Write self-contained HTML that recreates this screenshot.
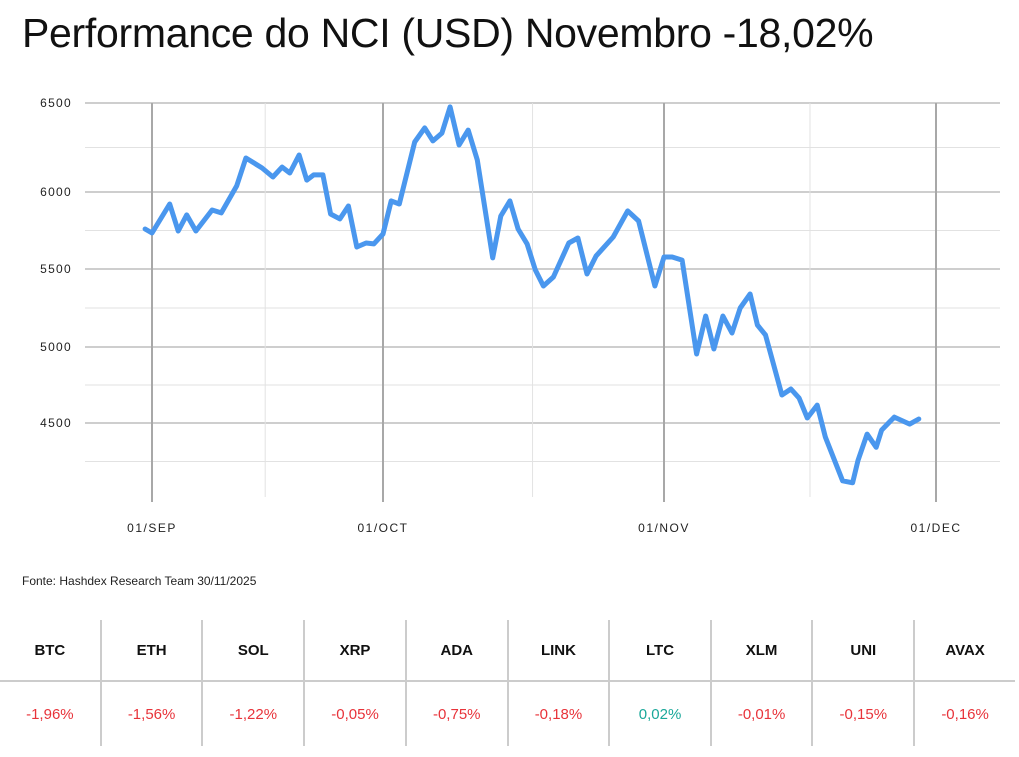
<!DOCTYPE html>
<html><head><meta charset="utf-8"><style>
body{margin:0;background:#fff;width:1019px;height:757px;overflow:hidden;font-family:"Liberation Sans",sans-serif;}
#title{position:absolute;left:22px;top:10px;font-size:41px;color:#111;margin:0;font-weight:normal;letter-spacing:-0.3px}
#src{position:absolute;left:22px;top:574px;font-size:12px;color:#222}
svg{position:absolute;left:0;top:0}
table{position:absolute;left:0;top:620px;width:1015px;border-collapse:collapse;font-size:15px;text-align:center}
td,th{border-left:2px solid #ccc;width:101px}
td:first-child,th:first-child{border-left:none}
th{height:58px;font-weight:bold;color:#111;border-bottom:2px solid #ccc}
td{height:62px;color:#e8333a}
td.pos{color:#1aa89a}
</style></head><body>
<h1 id="title">Performance do NCI (USD) Novembro -18,02%</h1>
<svg id="chart" width="1019" height="560"></svg>
<div id="src">Fonte: Hashdex Research Team 30/11/2025</div>
<table>
<tr><th>BTC</th><th>ETH</th><th>SOL</th><th>XRP</th><th>ADA</th><th>LINK</th><th>LTC</th><th>XLM</th><th>UNI</th><th>AVAX</th></tr>
<tr><td>-1,96%</td><td>-1,56%</td><td>-1,22%</td><td>-0,05%</td><td>-0,75%</td><td>-0,18%</td><td class="pos">0,02%</td><td>-0,01%</td><td>-0,15%</td><td>-0,16%</td></tr>
</table>
<script>
const days=[-0.9,0,2.3,3.4,4.5,5.7,7.8,9.0,11.0,12.2,14.3,15.7,16.9,17.9,19.1,20.1,21.0,22.2,23.2,24.4,25.5,26.6,27.8,28.8,30,30.9,31.8,33.5,34.6,35.5,36.5,37.4,38.4,39.4,40.4,42.1,43.0,44.0,44.9,45.9,46.8,47.7,48.8,50.5,51.5,52.5,53.5,55.4,57.0,58.2,60.0,61,61.9,63.0,64.6,65.6,66.5,67.5,68.5,69.4,70.5,71.3,72.2,74.0,75.0,75.9,76.8,77.9,78.8,80.7,81.8,82.4,83.4,84.4,85.0,86.4,88.1,89.1];
const values=[5760,5734,5922,5747,5851,5747,5883,5864,6034,6191,6135,6084,6140,6107,6208,6067,6096,6096,5857,5825,5909,5643,5669,5663,5727,5942,5922,6281,6360,6287,6331,6478,6264,6348,6180,5572,5844,5942,5760,5663,5494,5391,5449,5669,5701,5468,5584,5708,5877,5812,5391,5578,5578,5558,4954,5199,4987,5199,5090,5250,5340,5141,5077,4684,4724,4664,4533,4618,4408,4125,4112,4257,4428,4342,4454,4539,4493,4526];
const yTicks=[4500,5000,5500,6000,6500];
const monthDays=[0,30,61,91];
const monthLabels=["01/SEP","01/OCT","01/NOV","01/DEC"];
const midDays=[14.7,46.5,77.1];
function interp(v,a){for(let i=0;i<a.length-1;i++){if(v<=a[i+1][0]||i==a.length-2){const[p0,q0]=a[i],[p1,q1]=a[i+1];return q0+(v-p0)*(q1-q0)/(p1-p0);}}}
const xA=[[0,152],[30,383],[61,664],[91,936]];
const yA=[[4000,500],[4500,423],[5000,347],[5500,269],[6000,192],[6500,103]];
const X=d=>interp(d,xA), Y=v=>interp(v,yA);
const svg=document.getElementById('chart'),NS='http://www.w3.org/2000/svg';
function mk(t,at,txt){const e=document.createElementNS(NS,t);for(const k in at)e.setAttribute(k,at[k]);if(txt)e.textContent=txt;svg.appendChild(e);return e;}
for(let i=0;i<yTicks.length-1;i++){const m=(yTicks[i]+yTicks[i+1])/2;
const g=mk('line',{x1:85,x2:1000,y1:Y(m),y2:Y(m),stroke:'#e2e2e2','stroke-width':1});

}
{const g=mk('line',{x1:85,x2:1000,y1:Y(4250),y2:Y(4250),stroke:'#e2e2e2','stroke-width':1});

}
yTicks.forEach(v=>{const g=mk('line',{x1:85,x2:1000,y1:Y(v),y2:Y(v),stroke:'#bdbdbd','stroke-width':1.5});


const t=mk('text',{x:72,y:Y(v)+4,'text-anchor':'end','font-size':12,fill:'#222','letter-spacing':'1.3'},String(v));

});
midDays.forEach(d=>{const g=mk('line',{x1:X(d),x2:X(d),y1:103,y2:497,stroke:'#e2e2e2','stroke-width':1});

});
monthDays.forEach((d,i)=>{const g=mk('line',{x1:X(d),x2:X(d),y1:103,y2:502,stroke:'#a8a8a8','stroke-width':2});


const t=mk('text',{x:X(d),y:532,'text-anchor':'middle','font-size':12,fill:'#222','letter-spacing':'1.5'},monthLabels[i]);

});
const pts=days.map((d,i)=>X(d).toFixed(1)+','+Y(values[i]).toFixed(1)).join(' ');
const l=mk('polyline',{points:pts,fill:'none',stroke:'#4a97ee','stroke-width':5,'stroke-linejoin':'round','stroke-linecap':'round'});


</script>
</body></html>
